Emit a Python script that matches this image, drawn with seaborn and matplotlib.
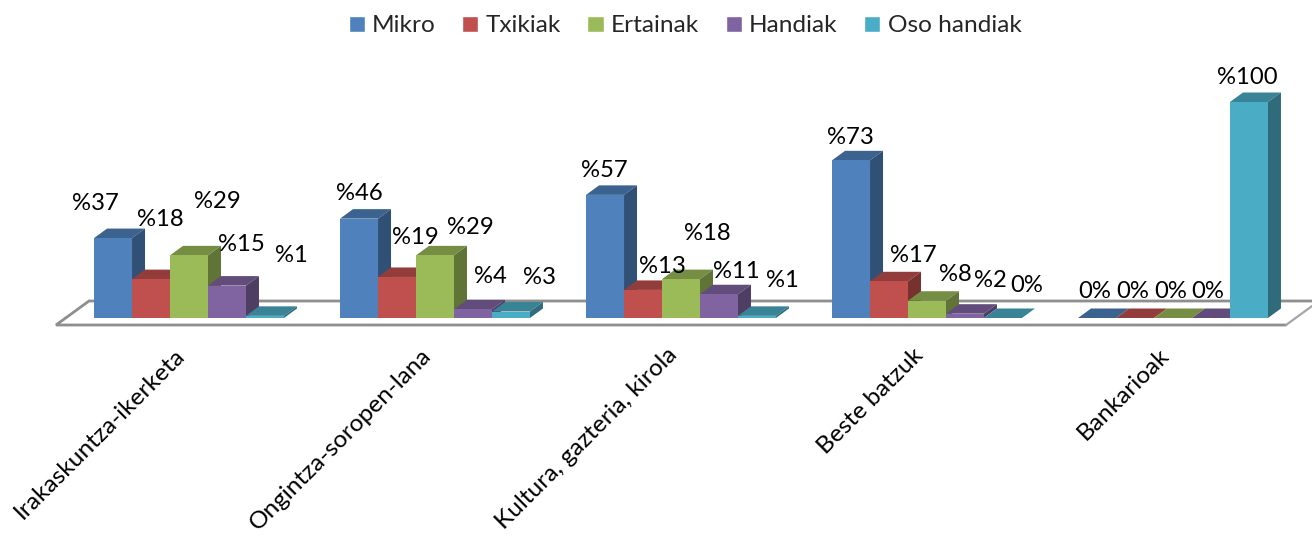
import pandas as pd
import seaborn as sns
import matplotlib.pyplot as plt
import matplotlib.colors as mcolors
from matplotlib.patches import Polygon
from matplotlib.transforms import ScaledTranslation

# Values
categories = ['Irakaskuntza-ikerketa', 'Ongintza-soropen-lana', 'Kultura, gazteria, kirola',
              'Beste batzuk', 'Bankarioak']
sizes = ['Mikro', 'Txikiak', 'Ertainak', 'Handiak', 'Oso handiak']
mikro = [37, 46, 57, 73, 0]
txikiak = [18, 19, 13, 17, 0]
ertainak = [29, 29, 18, 8, 0]
handiak = [15, 4, 11, 2, 0]
oso_handiak = [1, 3, 1, 0, 100]
colors = ['#4F81BD', '#C0504D', '#9BBB59', '#8064A2', '#4BACC6']

# Label offsets from the bar top, in pixels (one row per size, one column per category)
label_offsets = [
    [(-18, 35), (0, 25), (-1, 24), (-1, 23), (-2, 27)],
    [(9, 60), (18, 39), (19, 23), (24, 26), (-2, 27)],
    [(28, 54), (35, 28), (26, 46), (28, 26), (-2, 27)],
    [(14, 41), (17, 33), (17, 23), (25, 33), (-3, 27)],
    [(26, 60), (29, 34), (25, 35), (24, 32), (-2, 24)],
]

series = [mikro, txikiak, ertainak, handiak, oso_handiak]
data = pd.DataFrame({
    'category': [c for _ in sizes for c in categories],
    'size': [s for s in sizes for _ in categories],
    'value': [v for values in series for v in values],
})

W, H = 1312, 536
BASE_Y = 318
PX_X = 246.0
PX_Y = 2.16

sns.set_style('white')
plt.rcParams['font.family'] = ['Lato', 'DejaVu Sans']

fig = plt.figure(figsize=(W / 100, H / 100), dpi=100)
ax = fig.add_axes([0, (H - BASE_Y) / H, 1, BASE_Y / H])
sns.barplot(data=data, x='category', y='value', hue='size', order=categories, hue_order=sizes,
            palette=colors, width=0.772, gap=0, saturation=1, errorbar=None, ax=ax, zorder=5)
ax.set_xlim(-189 / PX_X, (W - 189) / PX_X)
ax.set_ylim(0, BASE_Y / PX_Y)
ax.set_xlabel('')
ax.set_ylabel('')
ax.set_yticks([])
sns.despine(ax=ax, left=True, bottom=True, right=True, top=True)
ax.patch.set_visible(False)
ax.tick_params(axis='x', length=0, pad=19)
shift = ScaledTranslation(-15 / 100, 0, fig.dpi_scale_trans)
for tick_label in ax.get_xticklabels():
    tick_label.set(rotation=45, ha='right', rotation_mode='anchor', fontsize=17.6, color='black')
    tick_label.set_transform(tick_label.get_transform() + shift)


def to_data(px, py):
    return (px - 189) / PX_X, (BASE_Y - py) / PX_Y


# Floor of the 3D box
floor_front = [to_data(1286, 325), to_data(56, 325), to_data(89, 301), to_data(1330, 301)]
floor_right = [to_data(1286, 325), to_data(1319, 301)]
ax.plot(*zip(*floor_front), color='#8E8E8E', lw=2.0, clip_on=False, zorder=1,
        solid_joinstyle='miter')
ax.plot(*zip(*floor_right), color='#A6A6A6', lw=1.6, clip_on=False, zorder=1)

# Depth faces and labels
dx = 13 / PX_X
dy = 9.5 / PX_Y
for i, (container, color) in enumerate(zip(ax.containers, colors)):
    rgb = mcolors.to_rgb(color)
    top_col = tuple(c * 0.76 for c in rgb)
    side_col = tuple(c * 0.62 for c in rgb)
    for j, bar in enumerate(container):
        x0, w, h = bar.get_x(), bar.get_width(), bar.get_height()
        order = 5 + j * 10 + i * 2
        bar.set_zorder(order + 1)
        bar.set_linewidth(0)
        ax.add_patch(Polygon([(x0, h), (x0 + w, h), (x0 + w + dx, h + dy), (x0 + dx, h + dy)],
                             fc=top_col, ec='none', zorder=order, clip_on=False))
        ax.add_patch(Polygon([(x0 + w, 0), (x0 + w + dx, dy), (x0 + w + dx, h + dy), (x0 + w, h)],
                             fc=side_col, ec='none', zorder=order, clip_on=False))
        off_x, off_y = label_offsets[i][j]
        label = f'%{h:.0f}' if h > 0 else '0%'
        ax.text(x0 + w / 2 + off_x / PX_X, h + off_y / PX_Y, label, ha='center', va='center',
                fontsize=17.2, color='black', zorder=200)

# Legend at the top
ax.legend(loc='center', bbox_to_anchor=(685 / W, (BASE_Y - 26) / BASE_Y), ncol=5, frameon=False,
          fontsize=17.6, handlelength=0.66, handleheight=0.66, handletextpad=0.3,
          columnspacing=1.08, borderpad=0)

fig.savefig('out.png', dpi=100)
